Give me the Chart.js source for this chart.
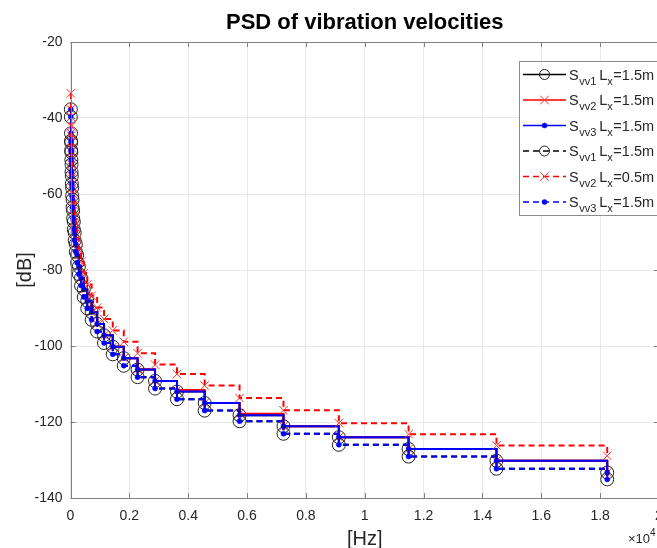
<!DOCTYPE html>
<html>
<head>
<meta charset="utf-8">
<script src="https://cdn.jsdelivr.net/npm/chart.js@4.4.1/dist/chart.umd.min.js"></script>
<style>
  html, body { margin:0; padding:0; background:#fff; }
  #wrap { width:657px; height:548px; overflow:hidden; position:relative; }
  canvas { display:block; }
</style>
</head>
<body>
<div id="wrap"><canvas id="psd" width="680" height="548"></canvas></div>
<script>
// ── Data ─────────────────────────────────────────────────────
const freqHz = [11.2, 17.8, 22.4, 28.2, 35.5, 44.8, 56.4, 71.1, 89.6, 113, 142, 179, 226, 285, 359, 452,
                570, 718, 905, 1140, 1436, 1810, 2280, 2873, 3619, 4560, 5745, 7238, 9120, 11490, 14477, 18240];

const svv1_15 = [-37.7, -44.0, -46.5, -49.0, -52.2, -55.3, -58.4, -61.5, -64.4, -67.3, -70.2, -73.2, -76.1, -79.1, -82.1, -85.1,
                 -88.1, -91.1, -94.2, -97.2, -100.2, -103.2, -106.2, -109.2, -112.0, -115.0, -118.2, -121.1, -124.0, -127.1, -130.2, -133.3];
const svv2_15 = [-37.7, -44.0, -46.5, -49.0, -52.2, -55.3, -58.4, -61.5, -64.4, -67.3, -70.2, -73.2, -76.1, -79.1, -82.1, -85.1,
                 -88.1, -91.1, -94.2, -97.2, -100.2, -103.2, -106.2, -109.2, -111.6, -115.0, -117.8, -121.1, -124.0, -127.1, -130.2, -133.3];
const svv3_15 = [-37.7, -44.0, -46.5, -49.0, -52.2, -55.3, -58.4, -61.5, -64.4, -67.3, -70.2, -73.2, -76.1, -79.1, -82.1, -85.1,
                 -88.1, -91.1, -94.2, -97.2, -100.2, -103.2, -106.2, -109.2, -112.0, -115.0, -118.2, -121.1, -124.0, -127.1, -130.2, -133.3];
const svv1_15b = [-39.7, -46.0, -48.5, -51.0, -54.2, -57.3, -60.4, -63.5, -66.4, -69.3, -72.2, -75.2, -78.1, -81.1, -84.1, -87.1,
                  -90.1, -93.1, -96.2, -99.2, -102.2, -105.2, -108.2, -111.2, -114.0, -117.0, -119.8, -123.1, -126.0, -129.1, -132.3, -135.1];
const svv2_05 = [-33.5, -39.7, -42.2, -44.7, -47.9, -51.0, -54.1, -57.2, -60.1, -63.0, -65.9, -68.9, -71.8, -74.8, -77.8, -80.8,
                 -83.8, -86.8, -89.9, -92.9, -95.9, -98.9, -101.9, -104.9, -107.4, -110.4, -113.7, -116.9, -120.3, -123.2, -126.2, -128.9];
const svv3_15b = [-39.7, -46.0, -48.5, -51.0, -54.2, -57.3, -60.4, -63.5, -66.4, -69.3, -72.2, -75.2, -78.1, -81.1, -84.1, -87.1,
                  -90.1, -93.1, -96.2, -99.2, -102.2, -105.2, -108.2, -111.2, -114.0, -117.0, -119.8, -123.1, -126.0, -129.1, -132.3, -135.1];

const legendSub = ['vv1', 'vv2', 'vv3', 'vv1', 'vv2', 'vv3'];
const legendLx  = ['1.5', '1.5', '1.5', '1.5', '0.5', '1.5'];

const FONT = '"Liberation Sans", Arial, Helvetica, sans-serif';
const AX   = '#808080';
const TXT  = '#262626';

// marker presets
const MK = {
  circle: { pointStyle:'circle',   pointRadius:6.5, pointBorderWidth:1,   pointBorderColor:'#222', pointBackgroundColor:'rgba(0,0,0,0)' },
  cross:  { pointStyle:'crossRot', pointRadius:6,   pointBorderWidth:1,   pointBorderColor:'#ff3030', pointBackgroundColor:'#ff3030' },
  dot:    { pointStyle:'circle',   pointRadius:2.5, pointBorderWidth:0.5, pointBorderColor:'#0000ff', pointBackgroundColor:'#0000ff' },
};

function series(ys, color, mk, dashed, order) {
  return {
    data: freqHz.map((f, i) => ({ x:f, y:ys[i] })),
    borderColor: color, borderWidth: 2, borderDash: dashed ? [6, 4] : [],
    stepped: true, fill: false, clip: false, order,
    pointHoverRadius: MK[mk].pointRadius,
    ...MK[mk],
  };
}

const defs = [
  { ys:svv1_15,  color:'#000000', mk:'circle', dashed:false },
  { ys:svv2_15,  color:'#ff0000', mk:'cross',  dashed:false },
  { ys:svv3_15,  color:'#0000ff', mk:'dot',    dashed:false },
  { ys:svv1_15b, color:'#000000', mk:'circle', dashed:true  },
  { ys:svv2_05,  color:'#ff0000', mk:'cross',  dashed:true  },
  { ys:svv3_15b, color:'#0000ff', mk:'dot',    dashed:true  },
];
// MATLAB draws later lines on top; in Chart.js lower order = on top
const datasets = defs.map((d, i) => series(d.ys, d.color, d.mk, d.dashed, defs.length - 1 - i));

// ── Box, inner ticks, titles and legend ──────────────────────
const decor = {
  id: 'decor',
  afterDraw(chart) {
    const { ctx, chartArea: a, scales: { x, y } } = chart;
    ctx.save();
    // axes box
    ctx.strokeStyle = AX; ctx.lineWidth = 1; ctx.setLineDash([]);
    ctx.beginPath();
    ctx.rect(Math.round(a.left) + 0.5, Math.round(a.top) + 0.5, Math.round(a.right - a.left), Math.round(a.bottom - a.top));
    ctx.stroke();
    // inward ticks
    ctx.beginPath();
    x.ticks.forEach(t => {
      const px = Math.round(x.getPixelForValue(t.value)) + 0.5;
      ctx.moveTo(px, a.bottom); ctx.lineTo(px, a.bottom - 5);
      ctx.moveTo(px, a.top);    ctx.lineTo(px, a.top + 5);
    });
    y.ticks.forEach(t => {
      const py = Math.round(y.getPixelForValue(t.value)) + 0.5;
      ctx.moveTo(a.left, py);  ctx.lineTo(a.left + 5, py);
      ctx.moveTo(a.right, py); ctx.lineTo(a.right - 5, py);
    });
    ctx.stroke();

    // titles
    const cx = (a.left + a.right) / 2;
    ctx.fillStyle = '#000';
    ctx.textAlign = 'center'; ctx.textBaseline = 'middle';
    ctx.font = `bold 22px ${FONT}`;
    ctx.fillText('PSD of vibration velocities', cx, 23);
    ctx.fillStyle = TXT;
    ctx.font = `20px ${FONT}`;
    ctx.fillText('[Hz]', cx, 539);
    ctx.save();
    ctx.translate(25, (a.top + a.bottom) / 2);
    ctx.rotate(-Math.PI / 2);
    ctx.fillText('[dB]', 0, 0);
    ctx.restore();
    // x10^4 exponent
    ctx.textAlign = 'left'; ctx.textBaseline = 'alphabetic';
    ctx.font = `13px ${FONT}`;
    ctx.fillText('\u00d710', 628, 543);
    ctx.font = `10px ${FONT}`;
    ctx.fillText('4', 650, 536);

    // legend
    const lx = 519.5, ly = 61.5, lw = 150, lh = 154;
    ctx.fillStyle = '#fff';
    ctx.fillRect(lx, ly, lw, lh);
    ctx.strokeStyle = '#8c8c8c'; ctx.lineWidth = 1;
    ctx.strokeRect(lx, ly, lw, lh);
    defs.forEach((d, i) => {
      const ry = 74.5 + i * 25.5;
      ctx.strokeStyle = d.color; ctx.lineWidth = 1.5;
      ctx.setLineDash(d.dashed ? [6, 4] : []);
      ctx.beginPath(); ctx.moveTo(523, ry); ctx.lineTo(566, ry); ctx.stroke();
      ctx.setLineDash([]);
      const m = MK[d.mk];
      ctx.strokeStyle = m.pointBorderColor; ctx.fillStyle = m.pointBackgroundColor;
      ctx.lineWidth = m.pointBorderWidth;
      ctx.beginPath();
      if (d.mk === 'cross') {
        const r = m.pointRadius * 0.707;
        ctx.moveTo(544.5 - r, ry - r); ctx.lineTo(544.5 + r, ry + r);
        ctx.moveTo(544.5 + r, ry - r); ctx.lineTo(544.5 - r, ry + r);
        ctx.stroke();
      } else {
        ctx.arc(544.5, ry, d.mk === 'circle' ? 5 : m.pointRadius, 0, Math.PI * 2);
        ctx.fill(); ctx.stroke();
      }
      // label  S_vvN L_x=..m
      ctx.fillStyle = TXT; ctx.textAlign = 'left'; ctx.textBaseline = 'alphabetic';
      let tx = 569;
      ctx.font = `14.5px ${FONT}`; ctx.fillText('S', tx, ry + 5); tx += ctx.measureText('S').width + 0.5;
      ctx.font = `11px ${FONT}`; ctx.fillText(legendSub[i], tx, ry + 10); tx += ctx.measureText(legendSub[i]).width + 3;
      ctx.font = `14.5px ${FONT}`; ctx.fillText('L', tx, ry + 5); tx += ctx.measureText('L').width;
      ctx.font = `11px ${FONT}`; ctx.fillText('x', tx, ry + 10); tx += ctx.measureText('x').width + 0.5;
      ctx.font = `14.5px ${FONT}`; ctx.fillText('=' + legendLx[i] + 'm', tx, ry + 5);
    });
    ctx.restore();
  }
};

new Chart(document.getElementById('psd'), {
  type: 'line',
  data: { datasets },
  options: {
    responsive: false, animation: false, devicePixelRatio: 1,
    layout: { padding: { top: 42, left: 0, right: 21, bottom: 0 } },
    plugins: { legend: { display: false }, title: { display: false }, tooltip: { enabled: false } },
    scales: {
      x: {
        type: 'linear', min: 0, max: 20000,
        afterFit: s => { s.height = 50; },
        grid: { color: '#e8e8e8', drawTicks: false },
        border: { display: false },
        ticks: { stepSize: 2000, padding: 10, color: TXT, font: { family: FONT, size: 14 },
                 maxRotation: 0, autoSkip: false,
                 callback: v => String(+(v / 1e4).toFixed(1)) },
      },
      y: {
        type: 'linear', min: -140, max: -20,
        afterFit: s => { s.width = 70.5; },
        grid: { color: '#e8e8e8', drawTicks: false },
        border: { display: false },
        ticks: { stepSize: 20, padding: 8, color: TXT, font: { family: FONT, size: 14 } },
      },
    },
  },
  plugins: [decor],
});
</script>
</body>
</html>
